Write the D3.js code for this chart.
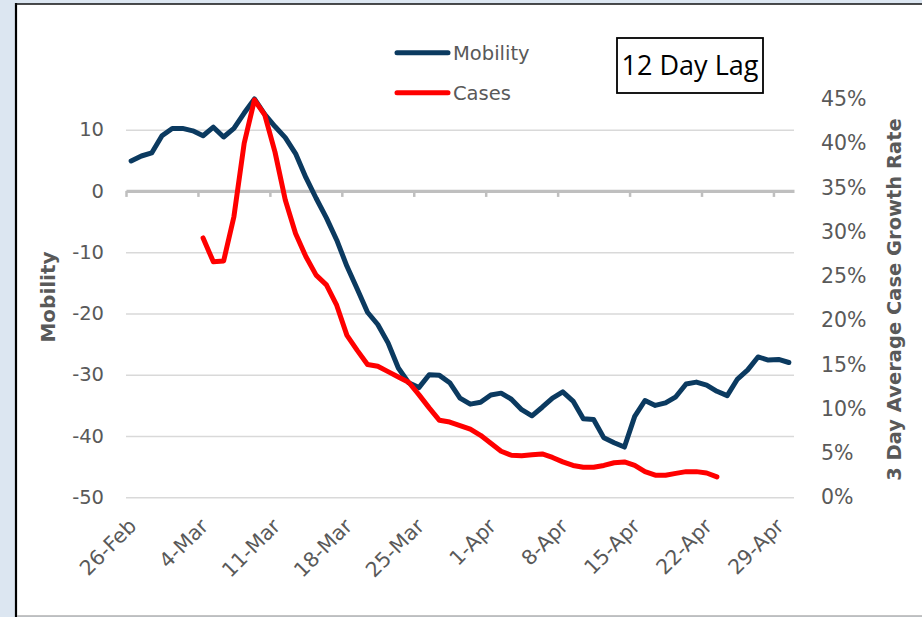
<!DOCTYPE html>
<html>
<head>
<meta charset="utf-8">
<script src="https://cdn.jsdelivr.net/npm/d3@7"></script>
<style>
  body { margin: 0; background: #dce6f1; }
  svg { display: block; }
</style>
</head>
<body>
<div id="chart"></div>
<script>
var WIDTH = 922;
var HEIGHT = 617;

// day categories, 26-Feb .. 30-Apr 2020
var startDate = new Date(2020, 1, 26);
var endDate = new Date(2020, 4, 1);
var days = d3.timeDay.range(startDate, endDate);
var tickDates = d3.timeDay.range(startDate, endDate, 7);

// mobility index, one value per day from 26-Feb
var mobility = [4.9, 5.7, 6.2, 9.0, 10.2, 10.2, 9.8, 9.0, 10.4, 8.8,
	10.2, 12.7, 15.0, 12.5, 10.5, 8.7, 6.1, 2.2, -1.2, -4.4,
	-8.0, -12.3, -16.0, -19.8, -21.8, -24.8, -28.9, -31.3, -32.1, -30.0,
	-30.1, -31.3, -33.8, -34.8, -34.5, -33.3, -33.0, -34.0, -35.7, -36.7,
	-35.3, -33.8, -32.8, -34.3, -37.2, -37.3, -40.3, -41.1, -41.8, -36.8,
	-34.2, -35.0, -34.6, -33.6, -31.5, -31.2, -31.7, -32.7, -33.4, -30.7,
	-29.2, -27.1, -27.6, -27.5, -28.0];

// 3 day average case growth rate (%), from 4-Mar
var casesStart = new Date(2020, 2, 4);
var cases = [29.3, 26.6, 26.7, 31.7, 40.0, 44.9, 43.2, 39.0, 33.6, 29.8,
	27.2, 25.1, 24.0, 21.7, 18.3, 16.6, 15.0, 14.8, 14.2, 13.6,
	13.0, 11.6, 10.1, 8.7, 8.5, 8.1, 7.7, 7.0, 6.1, 5.2,
	4.75, 4.7, 4.8, 4.9, 4.5, 4.0, 3.6, 3.4, 3.4, 3.6,
	3.9, 4.0, 3.6, 2.9, 2.5, 2.5, 2.7, 2.9, 2.9, 2.75, 2.3];

var leftTicks = [-50, -40, -30, -20, -10, 0, 10];
var rightTicks = [0, 0.05, 0.10, 0.15, 0.20, 0.25, 0.30, 0.35, 0.40, 0.45];

var LABEL = '#595959';
var NAVY = '#0b3a60';
var RED = '#ff0000';
var FONT = '"DejaVu Sans", sans-serif';

var plot = {left: 126, right: 794, top: 99, bottom: 497.3};

var svg = d3.select('#chart').append('svg')
	.attr('width', WIDTH)
	.attr('height', HEIGHT);

// chart area frame
svg.append('rect')
	.attr('x', 16).attr('y', 4)
	.attr('width', WIDTH - 16).attr('height', 612)
	.attr('fill', '#fff');
svg.append('line')
	.attr('x1', 16).attr('x2', 16).attr('y1', 3).attr('y2', 617)
	.attr('stroke', '#000').attr('stroke-width', 2.2);
svg.append('line')
	.attr('x1', 15).attr('x2', WIDTH).attr('y1', 4).attr('y2', 4)
	.attr('stroke', '#111').attr('stroke-width', 1.6);
svg.append('line')
	.attr('x1', 17).attr('x2', WIDTH).attr('y1', 616).attr('y2', 616)
	.attr('stroke', '#b0b0b0').attr('stroke-width', 1.5);

var x = d3.scaleTime()
	.domain([startDate, endDate])
	.range([plot.left, plot.right]);
var halfDay = (x(d3.timeDay.offset(startDate, 1)) - x(startDate)) / 2;

var yL = d3.scaleLinear().domain([-50, 15]).range([plot.bottom, plot.top]);
var yR = d3.scaleLinear().domain([0, 0.45]).range([plot.bottom, plot.top]);

// gridlines + left labels
var gLeft = svg.append('g')
	.attr('transform', 'translate(' + plot.left + ',0)')
	.call(d3.axisLeft(yL).tickValues(leftTicks)
		.tickFormat(function(d) { return String(d); })
		.tickSize(-(plot.right - plot.left)).tickPadding(22));
gLeft.select('.domain').remove();
gLeft.selectAll('.tick line').attr('stroke', '#d9d9d9').attr('stroke-width', 1.5);
gLeft.selectAll('.tick text')
	.attr('fill', LABEL).style('font-family', FONT).style('font-size', '19.5px');

// right labels
var gRight = svg.append('g')
	.attr('transform', 'translate(' + plot.right + ',0)')
	.call(d3.axisRight(yR).tickValues(rightTicks)
		.tickFormat(d3.format('.0%')).tickSize(0).tickPadding(27));
gRight.select('.domain').remove();
gRight.selectAll('.tick text')
	.attr('fill', LABEL).style('font-family', FONT).style('font-size', '20.5px');

// zero line with weekly tick marks
var gZero = svg.append('g')
	.attr('transform', 'translate(0,' + yL(0) + ')')
	.call(d3.axisBottom(x).tickValues(tickDates)
		.tickFormat('').tickSizeOuter(0).tickSizeInner(6));
gZero.select('.domain').attr('stroke', '#bfbfbf').attr('stroke-width', 3.2);
gZero.selectAll('.tick line').attr('stroke', '#bfbfbf').attr('stroke-width', 2.5);

// date labels
var gDates = svg.append('g')
	.attr('transform', 'translate(0,' + plot.bottom + ')')
	.call(d3.axisBottom(x).tickValues(tickDates)
		.tickFormat(d3.timeFormat('%-d-%b')).tickSize(0));
gDates.select('.domain').remove();
gDates.selectAll('.tick text')
	.attr('fill', LABEL).style('font-family', FONT).style('font-size', '20.5px')
	.attr('text-anchor', 'end')
	.attr('dy', null)
	.attr('transform', 'translate(9,28) rotate(-45)');

// series
var mobLine = d3.line()
	.x(function(d, i) { return x(days[i]) + halfDay; })
	.y(function(d) { return yL(d); });
var caseLine = d3.line()
	.x(function(d, i) { return x(d3.timeDay.offset(casesStart, i)) + halfDay; })
	.y(function(d) { return yR(d / 100); });

svg.append('path')
	.datum(mobility)
	.attr('d', mobLine)
	.attr('fill', 'none').attr('stroke', NAVY).attr('stroke-width', 5)
	.attr('stroke-linejoin', 'round').attr('stroke-linecap', 'round');

svg.append('path')
	.datum(cases)
	.attr('d', caseLine)
	.attr('fill', 'none').attr('stroke', RED).attr('stroke-width', 5)
	.attr('stroke-linejoin', 'round').attr('stroke-linecap', 'round');

// axis titles
svg.append('text')
	.attr('transform', 'translate(55,297) rotate(-90)')
	.attr('text-anchor', 'middle')
	.attr('fill', LABEL)
	.style('font-family', FONT).style('font-weight', 'bold').style('font-size', '20px')
	.text('Mobility');

svg.append('text')
	.attr('transform', 'translate(901,299.5) rotate(-90)')
	.attr('text-anchor', 'middle')
	.attr('fill', LABEL)
	.style('font-family', FONT).style('font-weight', 'bold').style('font-size', '19.5px')
	.text('3 Day Average Case Growth Rate');

// legend
var legend = [{name: 'Mobility', color: NAVY, y: 52.7}, {name: 'Cases', color: RED, y: 92.7}];
var lg = svg.selectAll('.legend').data(legend).enter().append('g').attr('class', 'legend');
lg.append('line')
	.attr('x1', 397).attr('x2', 448)
	.attr('y1', function(d) { return d.y; }).attr('y2', function(d) { return d.y; })
	.attr('stroke', function(d) { return d.color; })
	.attr('stroke-width', 5).attr('stroke-linecap', 'round');
lg.append('text')
	.attr('x', 453).attr('y', function(d) { return d.y; })
	.attr('dy', '0.35em')
	.attr('fill', LABEL)
	.style('font-family', FONT).style('font-size', '19.5px')
	.text(function(d) { return d.name; });

// lag box
svg.append('rect')
	.attr('x', 617).attr('y', 38)
	.attr('width', 146).attr('height', 55)
	.attr('fill', '#fff').attr('stroke', '#000').attr('stroke-width', 1.8);
svg.append('text')
	.attr('x', 690).attr('y', 65.5).attr('dy', '0.35em')
	.attr('text-anchor', 'middle')
	.attr('fill', '#000')
	.style('font-family', '"Open Sans", sans-serif').style('font-size', '27px')
	.text('12 Day Lag');
</script>
</body>
</html>
